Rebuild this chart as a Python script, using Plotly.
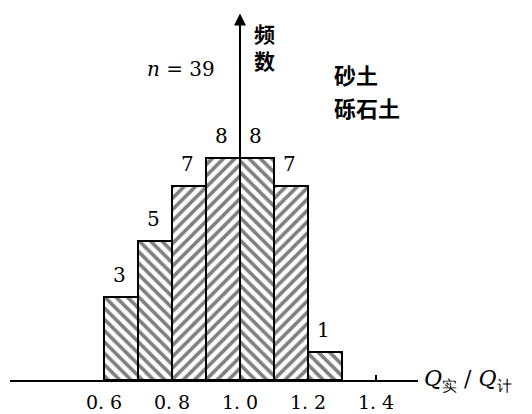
import plotly.graph_objects as go

# data
bin_left = [0.6, 0.7, 0.8, 0.9, 1.0, 1.1, 1.2]
counts = [3, 5, 7, 8, 8, 7, 1]
hatch = ["\\", "\\", "/", "/", "\\", "/", "\\"]
tick_vals = [0.6, 0.8, 1.0, 1.2, 1.4]
tick_text = ["0. 6", "0. 8", "1. 0", "1. 2", "1. 4"]
bin_width = 0.1

centers = [b + bin_width / 2 for b in bin_left]

fig = go.Figure()
fig.add_trace(go.Bar(
    x=centers, y=counts, width=bin_width,
    marker=dict(
        color="white",
        line=dict(color="black", width=2),
        pattern=dict(shape=hatch, fgcolor="black", bgcolor="white",
                     size=8, solidity=0.45, fillmode="overlay"),
    ),
    showlegend=False, hoverinfo="skip",
))

serif = "DejaVu Serif"
cjk = "Noto Sans CJK SC"

# count labels
for c, v in zip(centers, counts):
    fig.add_annotation(x=c, y=v, text=str(v), showarrow=False,
                       yanchor="bottom", yshift=8, xshift=-2,
                       font=dict(family=serif, size=20, color="black"))

# vertical axis with arrow at x = 1.0
fig.add_annotation(x=1.0, y=13.2, ax=1.0, ay=0, xref="x", yref="y",
                   axref="x", ayref="y", showarrow=True, text="",
                   arrowhead=2, arrowsize=1.2, arrowwidth=2, arrowcolor="black")

fig.add_annotation(x=1.0, y=13.1, xref="x", yref="y", text="<b>频<br>数</b>",
                   showarrow=False, xanchor="left", yanchor="top", xshift=12,
                   font=dict(family=cjk, size=21, color="black"))
fig.add_annotation(x=0.826, y=11.2, xref="x", yref="y", text="<i>n</i> = 39",
                   showarrow=False, xanchor="center", yanchor="middle",
                   font=dict(family=serif, size=20, color="black"))
fig.add_annotation(x=1.27, y=11.03, xref="x", yref="y", text="<b>砂土</b>",
                   showarrow=False, xanchor="left", yanchor="middle",
                   font=dict(family=cjk, size=22, color="black"))
fig.add_annotation(x=1.27, y=9.84, xref="x", yref="y", text="<b>砾石土</b>",
                   showarrow=False, xanchor="left", yanchor="middle",
                   font=dict(family=cjk, size=22, color="black"))
fig.add_annotation(x=1.0, y=0, xref="paper", yref="y",
                   text="<i>Q</i><sub>实</sub> / <i>Q</i><sub>计</sub>",
                   showarrow=False, xanchor="left", yanchor="middle", xshift=4,
                   font=dict(family=serif, size=22, color="black"))

fig.update_layout(
    width=524, height=406,
    margin=dict(l=2, r=114, t=2, b=34),
    paper_bgcolor="white", plot_bgcolor="white",
    bargap=0,
    xaxis=dict(range=[0.3235, 1.5235], showgrid=False, zeroline=False,
               showline=True, linecolor="black", linewidth=2,
               tickvals=tick_vals, ticktext=tick_text,
               ticks="inside", ticklen=5, tickcolor="black", tickwidth=1.5,
               ticklabelstandoff=4,
               tickfont=dict(family=serif, size=19, color="black")),
    yaxis=dict(range=[0, 13.33], visible=False),
)

fig.write_html("out.html")
